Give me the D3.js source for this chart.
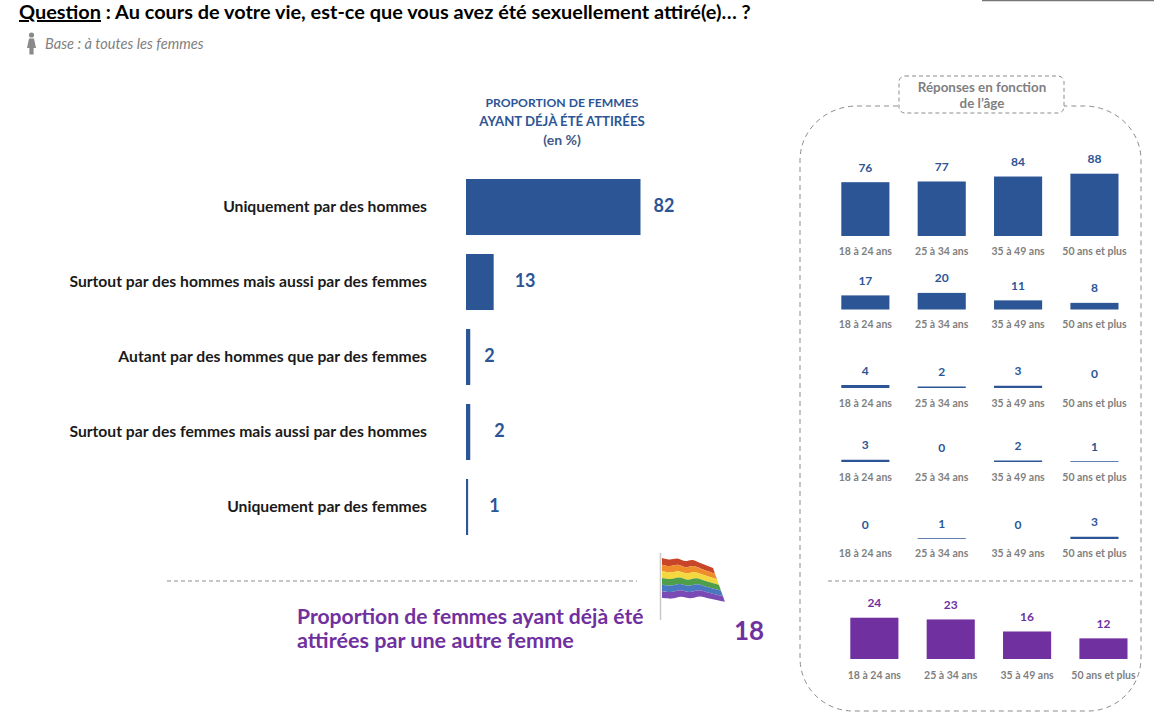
<!DOCTYPE html>
<html lang="fr">
<head>
<meta charset="utf-8">
<script src="https://cdn.jsdelivr.net/npm/d3@7"></script>
<style>
  html, body { margin: 0; padding: 0; background: #fff; }
  svg { display: block; }
  text { font-family: Lato, "Noto Sans", sans-serif; }
</style>
</head>
<body>
<svg id="chart" width="1161" height="719"></svg>
<script>
// --- data ---
const answers = [
  "Uniquement par des hommes",
  "Surtout par des hommes mais aussi par des femmes",
  "Autant par des hommes que par des femmes",
  "Surtout par des femmes mais aussi par des hommes",
  "Uniquement par des femmes",
];
const totals = [82, 13, 2, 2, 1];
const ageGroups = ["18 à 24 ans", "25 à 34 ans", "35 à 49 ans", "50 ans et plus"];
const ageRow1 = [76, 77, 84, 88];
const ageRow2 = [17, 20, 11, 8];
const ageRow3 = [4, 2, 3, 0];
const ageRow4 = [3, 0, 2, 1];
const ageRow5 = [0, 1, 0, 3];
const ageAttracted = [24, 23, 16, 12];
const attractedTotal = 18;
const flagColors = ["#c9452b", "#ee8d2c", "#f3d83f", "#4f9e4a", "#4a78c0", "#7a4bb5"];

const BLUE = "#2c5596";
const PURPLE = "#7030a0";
const GREY = "#7f7f7f";

const svg = d3.select("#chart");

// --- header ---
const title = svg.append("text").attr("x", 19).attr("y", 19)
  .attr("font-size", 19.9).attr("font-weight", 700).attr("fill", "#000");
title.append("tspan").attr("text-decoration", "underline").text("Question");
title.append("tspan").text(" : Au cours de votre vie, est-ce que vous avez été sexuellement attiré(e)… ?");

svg.append("line").attr("x1", 982).attr("x2", 1154).attr("y1", 0).attr("y2", 0)
  .attr("stroke", "#777").attr("stroke-width", 2.5);

// small woman pictogram
const woman = svg.append("g").attr("fill", "#8a8a8a");
woman.append("circle").attr("cx", 31.5).attr("cy", 35).attr("r", 2.6);
woman.append("path").attr("d", "M29 38.5h5l2 9.5h-2.4v6.5h-4.2V48H27z");

svg.append("text").attr("x", 45).attr("y", 49)
  .attr("font-size", 14.6).attr("font-style", "italic").attr("fill", GREY)
  .text("Base : à toutes les femmes");

// --- main bars ---
const mainHead = ["PROPORTION DE FEMMES", "AYANT DÉJÀ ÉTÉ ATTIRÉES", "(en %)"];
const mainHeadSizes = [12.2, 13.2, 14];
svg.append("g").selectAll("text").data(mainHead).join("text")
  .attr("x", 562).attr("y", (d, i) => 107 + i * 19)
  .attr("text-anchor", "middle").attr("font-size", (d, i) => mainHeadSizes[i]).attr("font-weight", 700)
  .attr("fill", (d, i) => i === 2 ? "#3f5a8a" : BLUE)
  .text(d => d);

const xMain = d3.scaleLinear().domain([0, 82]).range([466, 640.5]);
const yMain = d3.scaleBand().domain(answers).range([179, 535]).paddingInner(0.253);
// the value labels sit by hand at uneven distances from the bars
const valueGaps = [13, 21, 14, 24, 21];

svg.append("g").selectAll("rect").data(totals).join("rect")
  .attr("x", xMain(0))
  .attr("y", (d, i) => yMain(answers[i]))
  .attr("width", d => xMain(d) - xMain(0))
  .attr("height", yMain.bandwidth())
  .attr("fill", BLUE);

svg.append("g").selectAll("text").data(answers).join("text")
  .attr("x", 427)
  .attr("y", d => yMain(d) + yMain.bandwidth() / 2 + 5)
  .attr("text-anchor", "end").attr("font-size", 15.7).attr("font-weight", 700).attr("fill", "#1a1a1a")
  .text(d => d);

svg.append("g").selectAll("text").data(totals).join("text")
  .attr("x", (d, i) => xMain(d) + valueGaps[i])
  .attr("y", (d, i) => yMain(answers[i]) + yMain.bandwidth() / 2 + 5)
  .attr("font-size", 18).attr("font-weight", 700).attr("fill", BLUE)
  .text(d => d);

// --- separators ---
svg.append("line").attr("x1", 167).attr("x2", 637).attr("y1", 581).attr("y2", 581)
  .attr("stroke", "#8c8c8c").attr("stroke-width", 1).attr("stroke-dasharray", "4 3");
svg.append("line").attr("x1", 828).attr("x2", 1134).attr("y1", 581).attr("y2", 581)
  .attr("stroke", "#8c8c8c").attr("stroke-width", 1).attr("stroke-dasharray", "4 3");

// --- purple callout ---
const calloutSizes = [21.1, 21.6];
svg.append("g").selectAll("text")
  .data(["Proportion de femmes ayant déjà été", "attirées par une autre femme"]).join("text")
  .attr("x", 297).attr("y", (d, i) => 624 + i * 24)
  .attr("font-size", (d, i) => calloutSizes[i]).attr("font-weight", 700).attr("fill", PURPLE)
  .text(d => d);
svg.append("text").attr("x", 734).attr("y", 640)
  .attr("font-size", 26).attr("font-weight", 700).attr("fill", PURPLE)
  .text(attractedTotal);

// rainbow flag: each stripe is a band between two rippled edges
const defs = svg.append("defs");
defs.append("filter").attr("id", "soft").append("feGaussianBlur").attr("stdDeviation", 0.7);
const flag = svg.append("g");
flag.append("line").attr("x1", 660.5).attr("x2", 660.5).attr("y1", 553).attr("y2", 620)
  .attr("stroke", "#c8c8c8").attr("stroke-width", 1.5);
const ripple = [[0, 0], [0.15, 1.5], [0.3, 0.5], [0.45, 3], [0.6, 2], [0.75, 5], [0.9, 8], [1, 10]];
const edge = d3.line().curve(d3.curveCatmullRom);
function flagEdge(v) {
  return ripple.map(([u, dy]) => [662 + u * 51 + v * u * 12, 558 + dy + v * (40 - u * 6)]);
}
flag.append("g").attr("filter", "url(#soft)")
  .selectAll("path").data(flagColors).join("path")
  .attr("fill", d => d)
  .attr("d", (c, i) => {
    const top = flagEdge(i / 6);
    const bottom = flagEdge((i + 1) / 6).reverse();
    return edge(top) + "L" + edge(bottom).slice(1) + "Z";
  });

// --- age panel ---
svg.append("path")
  .attr("d", "M898 106H857A57 54 0 0 0 800 160V658A53 53 0 0 0 853 711H1088A53 53 0 0 0 1141 658V160A57 54 0 0 0 1084 106H1064")
  .attr("fill", "none").attr("stroke", "#8c8c8c").attr("stroke-width", 1).attr("stroke-dasharray", "5 4");
svg.append("rect").attr("x", 899).attr("y", 76).attr("width", 165).attr("height", 37).attr("rx", 6)
  .attr("fill", "#fff").attr("stroke", "#8c8c8c").attr("stroke-width", 1).attr("stroke-dasharray", "4 3");
svg.append("g").selectAll("text").data(["Réponses en fonction", "de l’âge"]).join("text")
  .attr("x", 982).attr("y", (d, i) => 92 + i * 16)
  .attr("text-anchor", "middle").attr("font-size", 13.4).attr("font-weight", 700).attr("fill", GREY)
  .text(d => d);

const xAge = d3.scaleBand().domain(ageGroups).range([841.3, 1118.5]).paddingInner(0.37);
const xAgeLow = d3.scaleBand().domain(ageGroups).range([850.3, 1127.5]).paddingInner(0.37);

function drawRow(values, x, base, unit, color, tickY) {
  const y = d3.scaleLinear().domain([0, 100]).range([base, base - unit * 100]);
  const g = svg.append("g");
  g.selectAll("rect").data(values).join("rect")
    .attr("x", (d, i) => x(ageGroups[i]))
    .attr("y", d => y(d))
    .attr("width", x.bandwidth())
    .attr("height", d => y(0) - y(d))
    .attr("fill", color);
  g.selectAll(".val").data(values).join("text").attr("class", "val")
    .attr("x", (d, i) => x(ageGroups[i]) + x.bandwidth() / 2)
    .attr("y", d => y(d) - 10.5)
    .attr("text-anchor", "middle").attr("font-size", 12).attr("font-weight", 700).attr("fill", color)
    .text(d => d);
  g.selectAll(".tick").data(ageGroups).join("text").attr("class", "tick")
    .attr("x", d => x(d) + x.bandwidth() / 2)
    .attr("y", tickY)
    .attr("text-anchor", "middle").attr("font-size", 10.5).attr("font-weight", 700).attr("fill", GREY)
    .text(d => d);
}

drawRow(ageRow1, xAge, 236, 0.708, BLUE, 255);
drawRow(ageRow2, xAge, 309.5, 0.83, BLUE, 328);
drawRow(ageRow3, xAge, 388, 0.75, BLUE, 407);
drawRow(ageRow4, xAge, 462, 0.75, BLUE, 481);
drawRow(ageRow5, xAge, 539, 0.75, BLUE, 557);
drawRow(ageAttracted, xAgeLow, 659, 1.72, PURPLE, 679);
</script>
</body>
</html>
